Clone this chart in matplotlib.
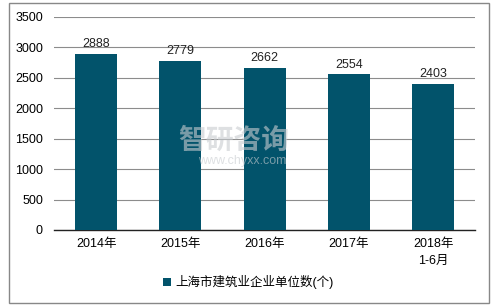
import matplotlib
matplotlib.use("Agg")
import matplotlib.pyplot as plt
from matplotlib.patches import Rectangle

plt.rcParams['font.family'] = ['Liberation Sans', 'Noto Sans CJK SC', 'DejaVu Sans']

categories = ["2014年", "2015年", "2016年", "2017年", "2018年\n1-6月"]
values = [2888, 2779, 2662, 2554, 2403]
series_name = "上海市建筑业企业单位数(个)"

BAR = '#02536b'

fig = plt.figure(figsize=(4.96, 3.07), dpi=100)
ax = fig.add_axes([0.109, 0.251, 0.849, 0.694])

x = list(range(len(categories)))
bars = ax.bar(x, values, width=0.5, color=BAR, label=series_name, zorder=3)
for xi, v in zip(x, values):
    ax.text(xi, v + 60, str(v), ha='center', va='bottom', fontsize=9, color='#222222')

ax.set_xlim(-0.5, len(categories) - 0.5)
ax.set_ylim(0, 3500)
ax.set_yticks(range(0, 3501, 500))
ax.set_xticks(x)
ax.set_xticklabels(categories, fontsize=9, linespacing=1.5)
ax.tick_params(axis='y', labelsize=9, length=0, pad=8)
ax.tick_params(axis='x', length=0, pad=6)
ax.grid(axis='y', color='#8c8c8c', linewidth=0.8, zorder=0)
for s in ['top', 'right', 'left']:
    ax.spines[s].set_visible(False)
ax.spines['bottom'].set_color('#222222')
ax.spines['bottom'].set_linewidth(1.0)

# watermark
fig.text(0.36, 0.54, "智研咨询", fontsize=20, color='#c8ccd0', alpha=0.6,
         ha='left', va='center', weight='bold', zorder=10)
fig.text(0.40, 0.475, "www.chyxx.com", fontsize=9, color='#c8ccd0', alpha=0.6,
         ha='left', va='center', zorder=10)

fig.legend(handles=[bars], labels=[series_name], loc='center',
           bbox_to_anchor=(0.5, 0.08), frameon=False, fontsize=9,
           handlelength=0.7, handleheight=0.7, handletextpad=0.3)

fig.patches.append(Rectangle((0.018, 0.012), 0.968, 0.978, transform=fig.transFigure,
                             fill=False, edgecolor='#888888', linewidth=1.0))

fig.savefig("out.png", dpi=100, facecolor='white')
